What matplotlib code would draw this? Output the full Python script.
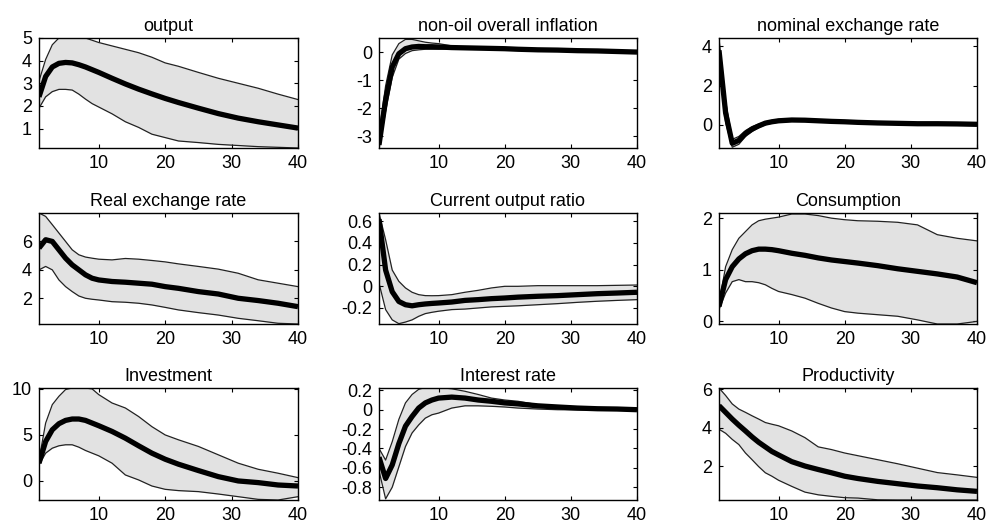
import matplotlib
matplotlib.use("Agg")
import matplotlib.pyplot as plt

plt.rcParams['font.family'] = ['Liberation Sans', 'DejaVu Sans']

X = [1, 2, 3, 4, 5, 6, 7, 8, 9, 10, 12, 14, 16, 18, 20, 22, 25, 28, 31, 34, 37, 40]

titles = ["output", "non-oil overall inflation", "nominal exchange rate",
          "Real exchange rate", "Current output ratio", "Consumption",
          "Investment", "Interest rate", "Productivity"]

# output
out_med = [2.4, 3.3, 3.72, 3.88, 3.92, 3.9, 3.82, 3.72, 3.6, 3.48, 3.22, 2.97, 2.74, 2.53, 2.33, 2.15, 1.9, 1.66, 1.46, 1.3, 1.16, 1.02]
out_up = [3.1, 4.05, 4.7, 5.0, 5.1, 5.1, 5.05, 5.0, 4.9, 4.8, 4.65, 4.5, 4.35, 4.15, 3.9, 3.75, 3.48, 3.22, 3.0, 2.78, 2.52, 2.28]
out_lo = [1.9, 2.4, 2.63, 2.73, 2.73, 2.7, 2.52, 2.3, 2.1, 1.95, 1.65, 1.3, 1.05, 0.75, 0.6, 0.45, 0.38, 0.3, 0.25, 0.2, 0.17, 0.14]

# non-oil overall inflation
inf_med = [-3.3, -1.7, -0.53, -0.06, 0.12, 0.18, 0.2, 0.19, 0.19, 0.18, 0.16, 0.15, 0.14, 0.13, 0.12, 0.1, 0.08, 0.07, 0.05, 0.04, 0.02, 0.0]
inf_up = [-2.9, -1.2, -0.1, 0.3, 0.45, 0.45, 0.4, 0.35, 0.32, 0.3, 0.22, 0.17, 0.15, 0.14, 0.13, 0.11, 0.09, 0.08, 0.06, 0.05, 0.03, 0.01]
inf_lo = [-3.45, -2.1, -0.9, -0.25, -0.05, 0.05, 0.08, 0.1, 0.1, 0.1, 0.12, 0.13, 0.13, 0.12, 0.11, 0.09, 0.07, 0.06, 0.04, 0.03, 0.01, -0.01]

# nominal exchange rate
ner_med = [3.8, 0.6, -0.95, -0.8, -0.45, -0.22, -0.06, 0.08, 0.15, 0.2, 0.24, 0.23, 0.2, 0.17, 0.15, 0.12, 0.09, 0.07, 0.05, 0.05, 0.04, 0.02]
ner_up = [4.4, 1.2, -0.75, -0.6, -0.3, -0.1, 0.03, 0.15, 0.22, 0.27, 0.3, 0.29, 0.26, 0.23, 0.2, 0.17, 0.14, 0.12, 0.1, 0.09, 0.08, 0.06]
ner_lo = [3.2, 0.1, -1.15, -1.0, -0.6, -0.35, -0.15, 0.0, 0.08, 0.13, 0.18, 0.17, 0.14, 0.11, 0.1, 0.07, 0.04, 0.02, 0.0, 0.0, -0.01, -0.02]

# Real exchange rate
rer_med = [5.53, 6.12, 6.0, 5.41, 4.82, 4.35, 4.0, 3.65, 3.41, 3.29, 3.18, 3.13, 3.06, 2.99, 2.82, 2.7, 2.47, 2.3, 2.0, 1.84, 1.65, 1.41]
rer_up = [8.0, 7.76, 7.18, 6.59, 6.0, 5.41, 5.06, 4.9, 4.82, 4.75, 4.7, 4.8, 4.75, 4.66, 4.56, 4.42, 4.24, 4.05, 3.76, 3.3, 3.06, 2.82]
rer_lo = [4.0, 4.24, 4.0, 3.29, 2.82, 2.47, 2.16, 2.0, 1.93, 1.88, 1.76, 1.72, 1.65, 1.53, 1.36, 1.18, 0.99, 0.82, 0.59, 0.42, 0.24, 0.19]

# Current output ratio
cor_med = [0.62, 0.15, -0.05, -0.14, -0.17, -0.18, -0.17, -0.163, -0.158, -0.154, -0.145, -0.13, -0.123, -0.114, -0.108, -0.1, -0.092, -0.086, -0.077, -0.068, -0.062, -0.055]
cor_up = [0.677, 0.43, 0.15, 0.046, -0.015, -0.055, -0.077, -0.086, -0.087, -0.086, -0.077, -0.055, -0.037, -0.015, 0.0, 0.0, 0.006, 0.006, 0.006, 0.006, 0.009, 0.012]
cor_lo = [0.03, -0.215, -0.31, -0.345, -0.33, -0.31, -0.277, -0.252, -0.24, -0.23, -0.215, -0.21, -0.2, -0.19, -0.185, -0.18, -0.17, -0.16, -0.148, -0.138, -0.13, -0.123]

# Consumption
con_med = [0.29, 0.81, 1.06, 1.21, 1.31, 1.37, 1.4, 1.4, 1.39, 1.37, 1.32, 1.28, 1.23, 1.19, 1.16, 1.13, 1.08, 1.02, 0.97, 0.92, 0.86, 0.75]
con_up = [0.35, 1.06, 1.39, 1.61, 1.74, 1.87, 1.95, 1.98, 2.0, 2.02, 2.08, 2.08, 2.05, 2.0, 1.97, 1.95, 1.94, 1.92, 1.87, 1.68, 1.61, 1.56]
con_lo = [0.23, 0.55, 0.77, 0.81, 0.77, 0.77, 0.75, 0.71, 0.64, 0.58, 0.52, 0.45, 0.35, 0.26, 0.19, 0.16, 0.13, 0.1, 0.03, -0.05, -0.05, 0.0]

# Investment
inv_med = [1.93, 4.29, 5.56, 6.22, 6.58, 6.73, 6.73, 6.58, 6.29, 6.0, 5.38, 4.65, 3.82, 3.02, 2.36, 1.82, 1.13, 0.47, 0.0, -0.18, -0.44, -0.55]
inv_up = [2.29, 6.29, 8.29, 9.2, 9.93, 10.1, 10.2, 10.1, 10.0, 9.38, 8.47, 7.93, 7.0, 5.9, 5.0, 4.47, 3.75, 2.84, 1.93, 1.27, 0.84, 0.36]
inv_lo = [1.75, 3.02, 3.56, 3.82, 3.93, 3.93, 3.67, 3.31, 3.02, 2.73, 1.93, 0.65, 0.11, -0.55, -0.91, -1.05, -1.16, -1.42, -1.71, -2.0, -2.07, -1.71]

# Interest rate
int_med = [-0.49, -0.71, -0.57, -0.35, -0.17, -0.07, 0.017, 0.07, 0.1, 0.12, 0.13, 0.12, 0.1, 0.087, 0.07, 0.06, 0.04, 0.028, 0.017, 0.01, 0.007, 0.0]
int_up = [-0.4, -0.52, -0.33, -0.1, 0.07, 0.157, 0.21, 0.23, 0.23, 0.23, 0.216, 0.19, 0.157, 0.12, 0.1, 0.087, 0.052, 0.035, 0.024, 0.014, 0.01, 0.007]
int_lo = [-0.63, -0.92, -0.8, -0.59, -0.38, -0.24, -0.157, -0.087, -0.052, -0.035, 0.017, 0.04, 0.04, 0.035, 0.028, 0.017, 0.007, 0.0, -0.002, -0.003, -0.003, -0.004]

# Productivity
pro_med = [5.15, 4.8, 4.45, 4.13, 3.83, 3.52, 3.24, 3.0, 2.76, 2.58, 2.23, 2.0, 1.82, 1.65, 1.47, 1.35, 1.2, 1.08, 0.96, 0.87, 0.76, 0.68]
pro_up = [6.07, 5.68, 5.24, 4.97, 4.8, 4.62, 4.45, 4.27, 4.18, 4.1, 3.83, 3.48, 3.0, 2.86, 2.68, 2.54, 2.33, 2.12, 1.89, 1.66, 1.54, 1.41]
pro_lo = [3.92, 3.71, 3.39, 3.12, 2.68, 2.33, 1.97, 1.65, 1.47, 1.26, 0.94, 0.64, 0.5, 0.42, 0.35, 0.33, 0.24, 0.23, 0.23, 0.23, 0.23, 0.23]

medians = [out_med, inf_med, ner_med, rer_med, cor_med, con_med, inv_med, int_med, pro_med]
uppers = [out_up, inf_up, ner_up, rer_up, cor_up, con_up, inv_up, int_up, pro_up]
lowers = [out_lo, inf_lo, ner_lo, rer_lo, cor_lo, con_lo, inv_lo, int_lo, pro_lo]

ylims = [(0.14, 5.0), (-3.41, 0.5), (-1.19, 4.43), (0.19, 8.0), (-0.348, 0.677),
         (-0.05, 2.1), (-2.07, 10.1), (-0.932, 0.224), (0.23, 6.07)]
yticks = [[1, 2, 3, 4, 5], [-3, -2, -1, 0], [0, 2, 4], [2, 4, 6],
          [-0.2, 0, 0.2, 0.4, 0.6], [0, 1, 2], [0, 5, 10],
          [-0.8, -0.6, -0.4, -0.2, 0, 0.2], [2, 4, 6]]
yticklabels = [["1", "2", "3", "4", "5"], ["-3", "-2", "-1", "0"], ["0", "2", "4"],
               ["2", "4", "6"], ["-0.2", "0", "0.2", "0.4", "0.6"], ["0", "1", "2"],
               ["0", "5", "10"], ["-0.8", "-0.6", "-0.4", "-0.2", "0", "0.2"],
               ["2", "4", "6"]]
xticks = [10, 20, 30, 40]

W, H = 995, 528
fig = plt.figure(figsize=(W / 100, H / 100), dpi=100)
lefts = [39, 379, 719]
widths = [259, 258, 258]
tops = [38, 213, 388]
heights = [110, 111, 112]

for i in range(9):
    r, c = divmod(i, 3)
    l = lefts[c] / W
    b = 1 - (tops[r] + heights[r]) / H
    ax = fig.add_axes([l, b, widths[c] / W, heights[r] / H])
    ax.fill_between(X, lowers[i], uppers[i], color='#e2e2e2', linewidth=0)
    ax.plot(X, uppers[i], color='#222222', lw=0.9)
    ax.plot(X, lowers[i], color='#222222', lw=0.9)
    ax.plot(X, medians[i], color='black', lw=3.8, solid_capstyle='butt')
    ax.set_xlim(1, 40)
    ax.set_ylim(*ylims[i])
    ax.set_xticks(xticks)
    ax.set_xticklabels([str(t) for t in xticks])
    ax.set_yticks(yticks[i])
    ax.set_yticklabels(yticklabels[i])
    ax.tick_params(direction='in', top=True, right=True, length=3, width=0.8,
                   labelsize=13, pad=5)
    for s in ax.spines.values():
        s.set_linewidth(1.0)
    ax.set_title(titles[i], fontsize=13, pad=5)

fig.savefig("out.png", dpi=100)
